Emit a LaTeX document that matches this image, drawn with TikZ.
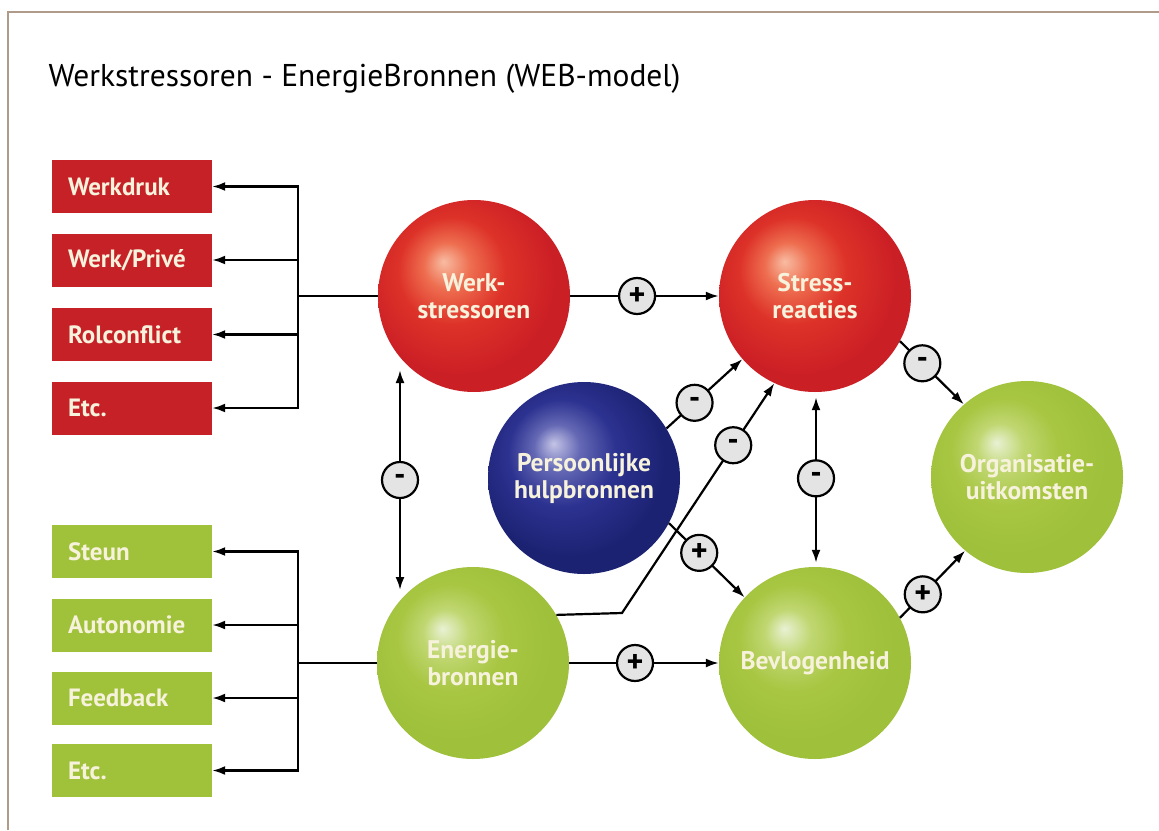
\documentclass[tikz,border=0pt]{standalone}
\usepackage{fontspec}
\setmainfont{PT Sans}
\usetikzlibrary{arrows.meta,calc}
\definecolor{redhi}{HTML}{F8BCA2}
\definecolor{redm1}{HTML}{EE6E50}
\definecolor{redm2}{HTML}{DD3228}
\definecolor{redout}{HTML}{CB1F26}
\definecolor{grhi}{HTML}{E9F1D3}
\definecolor{grm1}{HTML}{C0D772}
\definecolor{grm2}{HTML}{A8C642}
\definecolor{grout}{HTML}{9EC03A}
\definecolor{blhi}{HTML}{C4C4E6}
\definecolor{blm1}{HTML}{6468B4}
\definecolor{blm2}{HTML}{2C3290}
\definecolor{blout}{HTML}{1C2272}
\definecolor{boxred}{HTML}{C62127}
\definecolor{boxgreen}{HTML}{A0C13A}
\definecolor{signgray}{HTML}{E4E4E4}
\definecolor{framecol}{HTML}{B09A8A}
\definecolor{txtcream}{HTML}{F7F2DC}
\pgfdeclareradialshading{redsph}{\pgfpoint{-8bp}{9bp}}{color(0bp)=(redhi); color(6bp)=(redm1); color(14bp)=(redm2); color(25bp)=(redout); color(50bp)=(redout)}
\pgfdeclareradialshading{grsph}{\pgfpoint{-8bp}{9bp}}{color(0bp)=(grhi); color(6bp)=(grm1); color(14bp)=(grm2); color(25bp)=(grout); color(50bp)=(grout)}
\pgfdeclareradialshading{blsph}{\pgfpoint{-8bp}{9bp}}{color(0bp)=(blhi); color(6bp)=(blm1); color(14bp)=(blm2); color(25bp)=(blout); color(50bp)=(blout)}
\begin{document}
\begin{tikzpicture}[x=1pt,y=-1pt,
  sphere/.style={circle, minimum size=192pt, inner sep=0pt, align=center,
    text=txtcream, font=\fontsize{25.5}{27}\selectfont\bfseries},
  catbox/.style={rectangle, minimum width=160pt, minimum height=53pt, inner sep=0pt,
    text=txtcream, font=\fontsize{25}{28}\selectfont\bfseries},
  arr/.style={-{Latex[length=13pt,width=9pt]}, line width=2.2pt},
  darr/.style={{Latex[length=13pt,width=9pt]}-{Latex[length=13pt,width=9pt]}, line width=2.2pt},
  bus/.style={line width=2.2pt},
  sign/.style={circle, draw, line width=2.2pt, fill=signgray, minimum size=36pt, inner sep=0pt,
    text=black, font=\fontsize{32}{32}\selectfont\bfseries}
]
\useasboundingbox (0,0) rectangle (1159,830);
\fill[white] (0,0) rectangle (1159,830);
\draw[framecol, line width=2pt] (8,830) -- (8,12) -- (1159,12);

\node[anchor=base west, font=\fontsize{31.5}{36}\selectfont, text=black] (title) at (45,86)
  {Werkstressoren - EnergieBronnen (WEB-model)};

% category boxes
\node[catbox, fill=boxred] (r1) at (132,186.5) {\makebox[128pt][l]{Werkdruk}};
\node[catbox, fill=boxred] (r2) at (132,260) {\makebox[128pt][l]{Werk/Privé}};
\node[catbox, fill=boxred] (r3) at (132,334.5) {\makebox[128pt][l]{Rolconflict}};
\node[catbox, fill=boxred] (r4) at (132,408) {\makebox[128pt][l]{Etc.}};
\node[catbox, fill=boxgreen] (g1) at (132,551.5) {\makebox[128pt][l]{Steun}};
\node[catbox, fill=boxgreen] (g2) at (132,625) {\makebox[128pt][l]{Autonomie}};
\node[catbox, fill=boxgreen] (g3) at (132,698) {\makebox[128pt][l]{Feedback}};
\node[catbox, fill=boxgreen] (g4) at (132,770.5) {\makebox[128pt][l]{Etc.}};

% spheres
\node[sphere, shading=redsph] (ws) at (474,296) {Werk-\\stressoren};
\node[sphere, shading=redsph] (sr) at (815,296) {Stress-\\reacties};
\node[sphere, shading=blsph] (ph) at (584,478) {Persoonlijke\\hulpbronnen};
\node[sphere, shading=grsph] (org) at (1027,477) {Organisatie-\\uitkomsten};
\node[sphere, shading=grsph] (eb) at (473,663) {Energie-\\bronnen};
\node[sphere, shading=grsph] (bv) at (815,663) {Bevlogenheid};

% buses
\coordinate (busr) at (298,296);
\coordinate (busg) at (298,663);
\draw[bus] (ws.west) -- (busr);
\draw[bus] (eb.west) -- (busg);
\foreach \b in {r1,r2,r3,r4} \draw[arr] (busr) |- (\b.east);
\foreach \b in {g1,g2,g3,g4} \draw[arr] (busg) |- (\b.east);

% relations
\draw[arr] (ws.east) -- node[sign, pos=0.45] {+} (sr.west);
\draw[arr] (eb.east) -- node[sign, pos=0.44] {+} (bv.west);
\coordinate (wsb) at ($(ws)+(-74,74)$);
\coordinate (ebt) at ($(eb)+(-73,-73)$);
\draw[darr] (wsb) -- node[sign, pos=0.5] {-} (ebt);
\coordinate (srb) at ($(sr.south)+(1,5)$);
\coordinate (bvt) at ($(bv.north)+(1,-4)$);
\draw[darr] (srb) -- node[sign, pos=0.49] {-} (bvt);
\draw[arr] (sr.-28) -- node[sign, pos=0.35] {-} (org.131);
\draw[arr] (bv.28) -- node[sign, pos=0.35] {+} (org.-130);
\draw[arr] (ph.31) -- node[sign, pos=0.37] {-} (sr.-139);
\draw[arr] (ph.-28) -- node[sign, pos=0.4] {+} (bv.137);
\coordinate (ebk) at (622,613);
\draw[arr] (eb.30) -- (ebk) -- node[sign, pos=0.73] {-} (sr.-115);
\end{tikzpicture}
\end{document}
